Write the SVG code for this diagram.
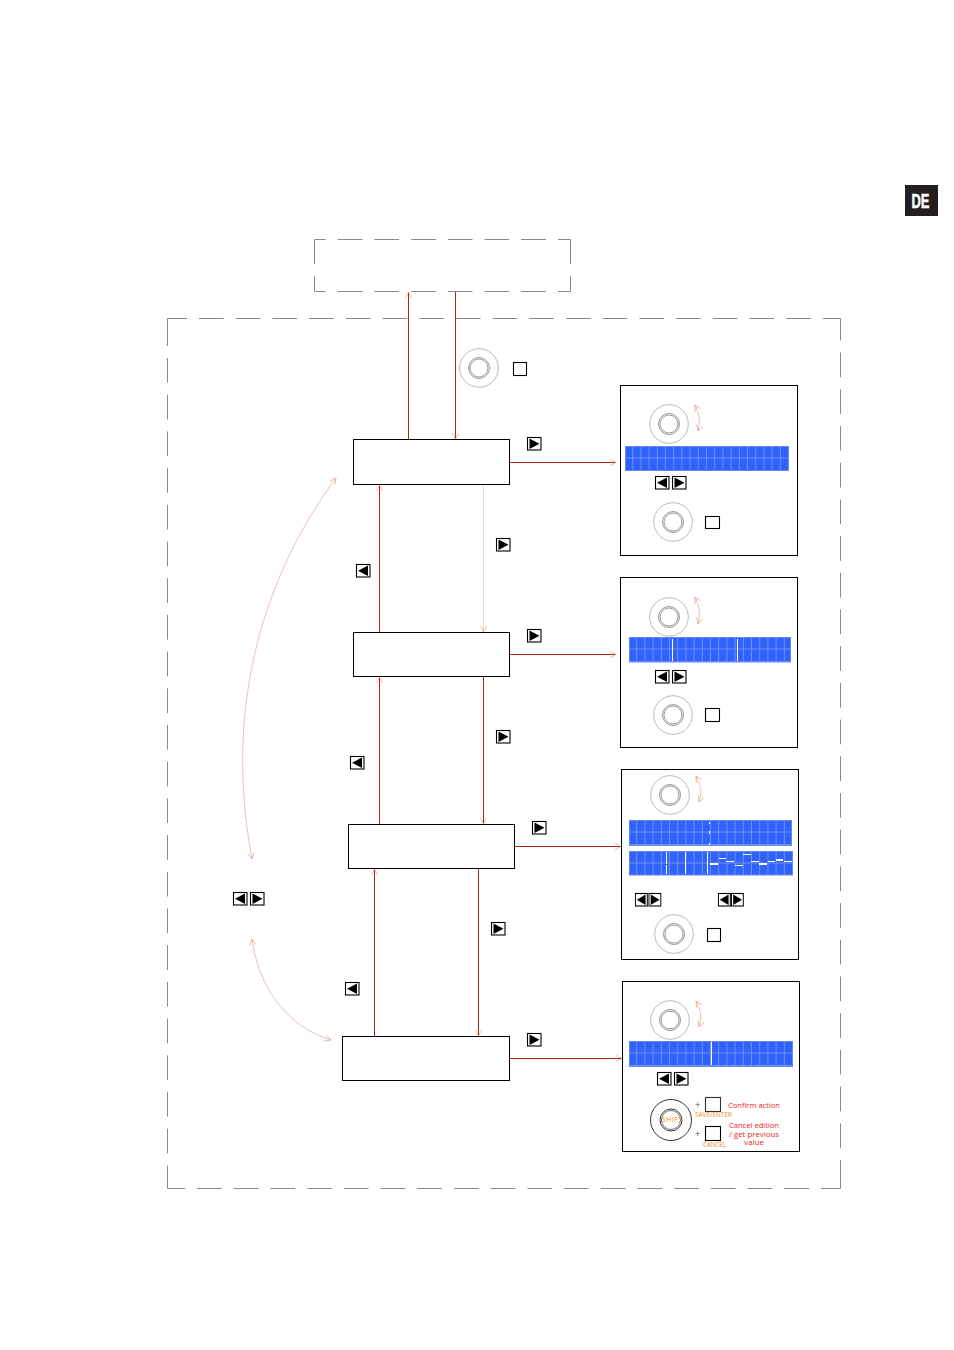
<svg xmlns="http://www.w3.org/2000/svg" width="954" height="1350" viewBox="0 0 954 1350">
<style>
.dash{fill:none;stroke:#8a8a8a;stroke-width:1;stroke-dasharray:24.7 12}
.solid{fill:none;stroke:#8a8a8a;stroke-width:1}
.box{fill:#fff;stroke:#000;stroke-width:1}
.line{fill:none;stroke:#a82a0a;stroke-width:1}
.faint{fill:none;stroke:#e3b3a3;stroke-width:.8}
.k1{fill:none;stroke:#aaa;stroke-width:.8}
.k2{fill:none;stroke:#999;stroke-width:1}
.sq{fill:#fff;stroke:#000;stroke-width:1.1}
.lcd{fill:url(#cells);stroke:#6688f4;stroke-width:1}
.w{stroke:#fff;stroke-width:1;fill:none}
.red{font:7.500px "Open Sans","Liberation Sans",Arial,sans-serif;fill:#f01c1c}
.org{font:6.500px "Open Sans","Liberation Sans",Arial,sans-serif;fill:#f08a20}
.plus{font:9px "Liberation Sans",Arial,sans-serif;fill:#555}
</style>
<defs>
<pattern id="cells" x="0" y="0" width="8.2" height="12.5" patternUnits="userSpaceOnUse">
<rect width="8.2" height="12.5" fill="#2f62fd"/>
<path d="M7.700 0V12.500M0 12H8.200" stroke="#6f8ff2" stroke-width="1" fill="none"/>
</pattern>
<g id="knob"><circle r="19.300" class="k1"/><circle r="10.500" class="k2"/><circle r="9" class="k2"/></g>
<g id="btnR"><rect x=".5" y=".5" width="13.500" height="12.500" class="sq"/><path d="M2.500 1.500L12.500 6.800L2.500 12Z" fill="#000"/></g>
<g id="btnL"><rect x=".5" y=".5" width="13.500" height="12.500" class="sq"/><path d="M12 1.500L2 6.800L12 12Z" fill="#000"/></g>
<marker id="ah" markerWidth="8" markerHeight="8" refX="7" refY="4" orient="auto" markerUnits="userSpaceOnUse"><path d="M1 1L7 4L1 7" fill="none" stroke="#e09f8c" stroke-width=".7"/></marker>
<marker id="ahs" markerWidth="8" markerHeight="8" refX="1" refY="4" orient="auto" markerUnits="userSpaceOnUse"><path d="M7 1L1 4L7 7" fill="none" stroke="#e09f8c" stroke-width=".7"/></marker>
</defs>
<rect width="954" height="1350" fill="#fff"/>

<g id="badge-de"><rect x="905" y="185" width="33" height="31" fill="#231f20"/><text x="920.500" y="208" text-anchor="middle" font-family="'Liberation Sans',Arial,sans-serif" font-weight="700" font-size="21" textLength="18" lengthAdjust="spacingAndGlyphs" fill="#fff" stroke="#fff" stroke-width=".5">DE</text></g>

<g id="frames">
<path class="dash" stroke-dashoffset="13.500" d="M314.500 239.500H570.500"/>
<path class="dash" stroke-dashoffset="13.500" d="M314.500 291.500H570.500"/>
<path class="dash" d="M314.500 239.500V291.500"/>
<path class="dash" d="M570.500 239.500V291.500"/>
<path class="solid" d="M167.500 346V318.500H187"/>
<path class="dash" d="M199 318.500H840.500"/>
<path class="dash" d="M167.500 358V1188.500"/>
<path class="dash" stroke-dashoffset="5.200" d="M840.500 1188.500H167.500"/>
<path class="solid" d="M840.500 1160V1188.500"/>
<path class="dash" d="M840.500 1148V318.500"/>
</g>

<g id="connectors">
<path class="line" d="M408.500 439V292" marker-end="url(#ah)"/>
<path class="line" d="M455.500 292V439" marker-end="url(#ah)"/>
<path class="line" d="M379.500 632V485" marker-end="url(#ah)"/>
<path d="M483.500 485V632" fill="none" stroke="#e8d8d2" stroke-width="1" marker-end="url(#ah)"/>
<path class="line" d="M379.500 824V677" marker-end="url(#ah)"/>
<path class="line" d="M483.500 677V824" marker-end="url(#ah)"/>
<path class="line" d="M374.500 1036V869" marker-end="url(#ah)"/>
<path class="line" d="M478.500 869V1036" marker-end="url(#ah)"/>
<path class="line" d="M510 462.500H616" marker-end="url(#ah)"/>
<path class="line" d="M510 654.500H616" marker-end="url(#ah)"/>
<path class="line" d="M515 846.500H621" marker-end="url(#ah)"/>
<path class="line" d="M510 1058.500H622" marker-end="url(#ah)"/>
<path class="faint" d="M336 478C268 570 222 700 252 859" marker-start="url(#ahs)" marker-end="url(#ah)"/>
<path class="faint" d="M252 939C258 985 285 1026 331 1040" marker-start="url(#ahs)" marker-end="url(#ah)"/>
</g>

<g id="node-1"><rect x="353.500" y="439.500" width="156" height="45" class="box"/></g>
<g id="node-2"><rect x="353.500" y="632.500" width="156" height="44" class="box"/></g>
<g id="node-3"><rect x="348.500" y="824.500" width="166" height="44" class="box"/></g>
<g id="node-4"><rect x="342.500" y="1036.500" width="167" height="44" class="box"/></g>

<g id="top-controls">
<use href="#knob" x="479" y="368"/>
<rect x="513.500" y="362.500" width="13" height="13" class="sq"/>
</g>

<g id="nav-buttons">
<use href="#btnR" x="527" y="437"/>
<use href="#btnR" x="496" y="538"/>
<use href="#btnL" x="356" y="564"/>
<use href="#btnR" x="527" y="629"/>
<use href="#btnR" x="496" y="730"/>
<use href="#btnL" x="350" y="756"/>
<use href="#btnR" x="532" y="821"/>
<use href="#btnR" x="491" y="922"/>
<use href="#btnL" x="345" y="982"/>
<use href="#btnR" x="527" y="1033"/>
<use href="#btnL" x="233" y="892"/>
<use href="#btnR" x="250" y="892"/>
</g>

<g id="panel-1">
<rect x="620.500" y="385.500" width="177" height="170" class="box"/>
<use href="#knob" x="669" y="424"/>
<path class="faint" d="M695 405Q702 418 698 431" marker-start="url(#ahs)" marker-end="url(#ah)"/>
<g transform="translate(625 446)"><rect x=".5" y=".5" width="163" height="24" class="lcd"/></g>
<use href="#btnL" x="655" y="476"/>
<use href="#btnR" x="672" y="476"/>
<use href="#knob" x="673" y="522"/>
<rect x="705.500" y="516.500" width="14" height="12" class="sq"/>
</g>

<g id="panel-2">
<rect x="620.500" y="577.500" width="177" height="170" class="box"/>
<use href="#knob" x="669" y="617"/>
<path class="faint" d="M695 597Q702 610 698 624" marker-start="url(#ahs)" marker-end="url(#ah)"/>
<g transform="translate(629 637)"><rect x=".5" y=".5" width="161" height="24.500" class="lcd"/></g>
<path class="w" d="M672.500 639V661M737.500 639V661"/>
<use href="#btnL" x="655" y="670"/>
<use href="#btnR" x="672" y="670"/>
<use href="#knob" x="673" y="715"/>
<rect x="705.500" y="708.500" width="14" height="13" class="sq"/>
</g>

<g id="panel-3">
<rect x="621.500" y="769.500" width="177" height="190" class="box"/>
<use href="#knob" x="670" y="795"/>
<path class="faint" d="M696 776Q704 790 699 802" marker-start="url(#ahs)" marker-end="url(#ah)"/>
<g transform="translate(629 820)"><rect x=".5" y=".5" width="162" height="25" class="lcd"/></g>
<path class="w" d="M709.500 822V824M709.500 831V834M709.500 843V845"/>
<g transform="translate(629 851)"><rect x=".5" y=".5" width="163" height="23.500" class="lcd"/></g>
<path class="w" d="M666.500 852V864M666.500 865V874M685.500 852V874M707.500 852V874M719 858.500H726M726 861.500H734M735 865.500H743M743 854.500H751M751 861.500H759M768 861.500H775M784 861.500H792"/>
<path d="M710 864H718M759 864H767M776 860H783" stroke="#fff" stroke-width="1.800" fill="none"/>
<g transform="translate(635 893) scale(.88 1)"><use href="#btnL"/></g>
<g transform="translate(648.500 893) scale(.88 1)"><use href="#btnR"/></g>
<g transform="translate(718 893) scale(.88 1)"><use href="#btnL"/></g>
<g transform="translate(731 893) scale(.88 1)"><use href="#btnR"/></g>
<use href="#knob" x="674" y="934"/>
<rect x="707.500" y="928.500" width="13" height="13" class="sq"/>
</g>

<g id="panel-4">
<rect x="622.500" y="981.500" width="177" height="170" class="box"/>
<use href="#knob" x="670" y="1020"/>
<path class="faint" d="M696 1001Q704 1014 699 1027" marker-start="url(#ahs)" marker-end="url(#ah)"/>
<g transform="translate(629 1041)"><rect x=".5" y=".5" width="163" height="25" class="lcd"/></g>
<path class="w" d="M711.500 1042V1065"/>
<use href="#btnL" x="657" y="1072"/>
<use href="#btnR" x="674" y="1072"/>
<circle cx="671" cy="1120" r="20.500" fill="none" stroke="#222" stroke-width=".9"/>
<circle cx="671" cy="1120" r="11" fill="none" stroke="#222" stroke-width=".9"/>
<circle cx="671" cy="1120" r="9.500" fill="none" stroke="#333" stroke-width=".7"/>
<text x="662" y="1122" class="org" textLength="20">SHIFT</text>
<text x="695" y="1108" class="plus">+</text>
<rect x="705.500" y="1097.500" width="15" height="14" class="sq" style="stroke:#333"/>
<text x="695" y="1137" class="plus">+</text>
<rect x="705.500" y="1126.500" width="15" height="14" class="sq"/>
<text x="695" y="1117" class="org" textLength="37" lengthAdjust="spacingAndGlyphs">SAVE/ENTER</text>
<text x="703" y="1147" class="org" textLength="23" lengthAdjust="spacingAndGlyphs">CANCEL</text>
<text x="728" y="1108" class="red" textLength="52" lengthAdjust="spacingAndGlyphs">Confirm action</text>
<text x="729" y="1128" class="red" textLength="50" lengthAdjust="spacingAndGlyphs">Cancel edition</text>
<text x="729" y="1137" class="red" textLength="50" lengthAdjust="spacingAndGlyphs">/ get previous</text>
<text x="744" y="1145" class="red" textLength="20" lengthAdjust="spacingAndGlyphs">value</text>
</g>
</svg>
